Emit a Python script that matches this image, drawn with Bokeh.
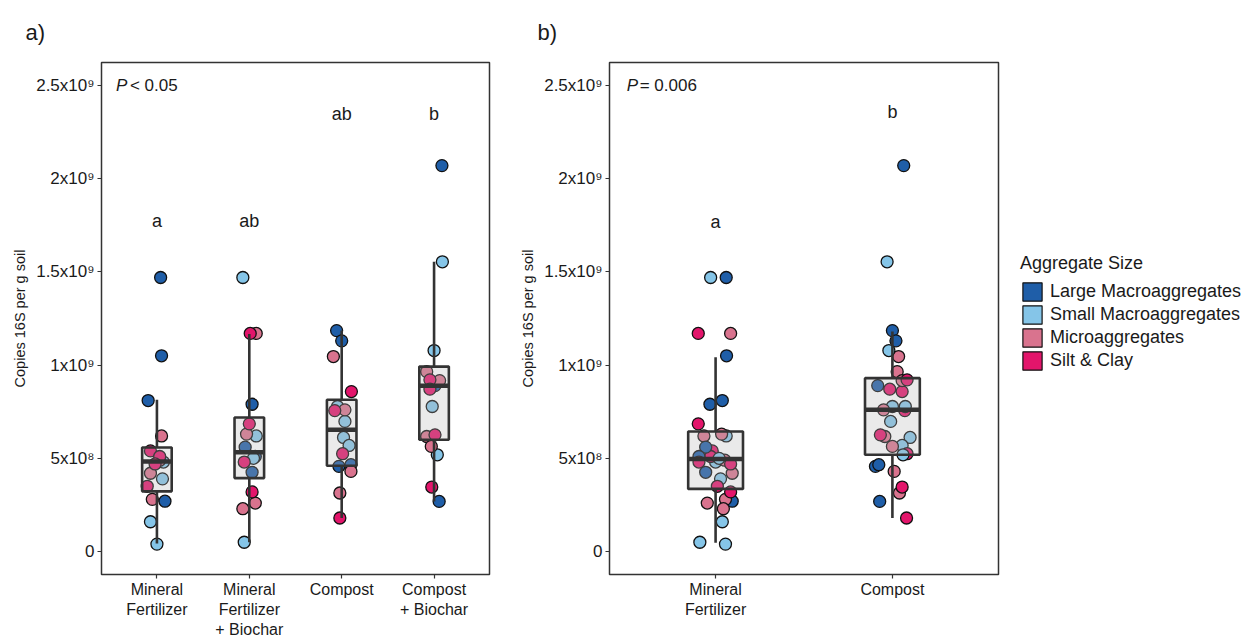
from bokeh.plotting import figure
from bokeh.models import FixedTicker, Legend, LegendItem, Range1d
from bokeh.layouts import row
from bokeh.embed import file_html
from bokeh.resources import INLINE
from bokeh.core.properties import value

# ---------------- data ----------------
treatments_a = ["Mineral\nFertilizer", "Mineral\nFertilizer\n+ Biochar", "Compost", "Compost\n+ Biochar"]
treatments_b = ["Mineral\nFertilizer", "Compost"]
aggregate_sizes = ["Large Macroaggregates", "Small Macroaggregates", "Microaggregates", "Silt & Clay"]
size_colors = ["#1f5ea8", "#85c5e8", "#d9738e", "#e3156b"]

# copies 16S per g soil, in units of 1e9 ; size index: 0 LM, 1 SM, 2 Mi, 3 SC
mf_copies = [1.47, 1.05, 0.81, 0.27, 0.48, 0.39, 0.16, 0.04, 0.62, 0.49, 0.42, 0.28, 0.54, 0.51, 0.47, 0.35]
mf_size = [0, 0, 0, 0, 1, 1, 1, 1, 2, 2, 2, 2, 3, 3, 3, 3]
mfb_copies = [0.79, 0.56, 0.51, 0.425, 1.47, 0.62, 0.50, 0.05, 1.17, 0.63, 0.26, 0.23, 1.17, 0.685, 0.48, 0.32]
mfb_size = [0, 0, 0, 0, 1, 1, 1, 1, 2, 2, 2, 2, 3, 3, 3, 3]
c_copies = [1.185, 1.13, 0.457, 0.466, 0.778, 0.698, 0.612, 0.569, 1.046, 0.76, 0.43, 0.314, 0.858, 0.756, 0.525, 0.18]
c_size = [0, 0, 0, 0, 1, 1, 1, 1, 2, 2, 2, 2, 3, 3, 3, 3]
cb_copies = [2.07, 0.89, 0.269, 1.554, 1.078, 0.778, 0.519, 0.965, 0.917, 0.617, 0.564, 0.921, 0.871, 0.626, 0.346]
cb_size = [0, 0, 0, 1, 1, 1, 1, 2, 2, 2, 2, 3, 3, 3, 3]

# horizontal jitter (category units)
mf_jit_a = [0.04, 0.05, -0.095, 0.087, 0.07, 0.06, -0.07, 0.0, 0.05, 0.03, -0.07, -0.05, -0.07, 0.03, -0.02, -0.105]
mfb_jit_a = [0.03, -0.045, 0.065, 0.03, -0.07, 0.075, 0.045, -0.055, 0.075, -0.03, 0.065, -0.07, 0.01, 0.0, -0.055, 0.03]
c_jit_a = [-0.055, 0.0, -0.03, 0.1, -0.045, 0.035, 0.02, 0.08, -0.09, 0.035, 0.1, -0.02, 0.105, -0.075, 0.01, -0.02]
cb_jit_a = [0.085, 0.01, 0.055, 0.09, 0.0, -0.02, 0.035, -0.08, 0.06, -0.08, -0.03, -0.045, -0.045, 0.01, -0.025]
mf_jit_b = [0.06, 0.062, 0.038, 0.094, 0.0, 0.028, 0.038, 0.056, -0.066, 0.052, 0.094, 0.056, -0.019, -0.028, 0.085, 0.01]
mfb_jit_b = [-0.032, -0.056, -0.094, -0.056, -0.028, 0.06, 0.02, -0.089, 0.085, 0.034, -0.047, 0.044, -0.098, -0.098, -0.094, 0.085]
c_jit_b = [0.0, 0.02, -0.096, -0.077, 0.0, -0.01, 0.1, 0.055, 0.035, -0.05, 0.01, 0.04, 0.055, 0.07, 0.083, 0.08]
cb_jit_b = [0.064, -0.083, -0.072, -0.03, -0.02, 0.073, 0.06, 0.027, 0.055, -0.043, 0.0, 0.083, -0.015, -0.068, 0.055]

# box statistics (units of 1e9)
a_q1 = [0.323, 0.394, 0.46, 0.60]
a_med = [0.483, 0.532, 0.653, 0.889]
a_q3 = [0.558, 0.719, 0.814, 0.992]
a_lo = [0.043, 0.05, 0.18, 0.269]
a_hi = [0.814, 1.167, 1.185, 1.554]
b_q1 = [0.336, 0.519]
b_med = [0.496, 0.76]
b_q3 = [0.644, 0.93]
b_lo = [0.047, 0.18]
b_hi = [1.042, 1.18]

# significance letters and P values
a_letters = ["a", "ab", "ab", "b"]
a_letter_y = [1.775, 1.775, 2.345, 2.345]
b_letters = ["a", "b"]
b_letter_y = [1.77, 2.36]
a_p_value = "< 0.05"
b_p_value = "= 0.006"

y_ticks = [0, 0.5, 1, 1.5, 2, 2.5]
y_tick_labels = ["0", "5x10\u2078", "1x10\u2079", "1.5x10\u2079", "2x10\u2079", "2.5x10\u2079"]

FONT = "Liberation Sans"
DARK = "#333333"
TXT = "#1a1a1a"
H = 644
TOP, BOTTOM = 62, 70


def make_panel(tag, cats, groups, box, letters, letter_y, p_text, p_x, p_dx,
               width, left_border, right_border, box_w, title_offset):
    n = len(cats)
    p = figure(width=width, height=H, x_range=Range1d(0.4, n + 0.6), y_range=Range1d(-0.123, 2.623),
               output_backend="svg", toolbar_location=None, min_border_left=left_border,
               min_border_right=right_border, min_border_top=TOP, min_border_bottom=BOTTOM, title=tag)
    p.grid.visible = False
    p.outline_line_color = DARK
    p.outline_line_width = 1.5
    p.title.text_font = FONT
    p.title.text_font_size = "22px"
    p.title.text_font_style = "normal"
    p.title.text_color = TXT
    p.title.align = "left"
    p.title.offset = title_offset
    p.title.standoff = 35

    for ax in (p.xaxis[0], p.yaxis[0]):
        ax.axis_line_color = None
        ax.major_tick_line_color = DARK
        ax.major_tick_line_width = 1.2
        ax.major_tick_in = 0
        ax.major_tick_out = 4
        ax.minor_tick_line_color = None
        ax.major_label_text_font = FONT
        ax.major_label_text_color = TXT
    p.xaxis.major_label_text_font_size = "16px"
    p.yaxis.major_label_text_font_size = "17px"
    p.xaxis.ticker = FixedTicker(ticks=list(range(1, n + 1)))
    p.xaxis.major_label_overrides = {i + 1: c for i, c in enumerate(cats)}
    p.xaxis.major_label_standoff = 2
    p.yaxis.ticker = FixedTicker(ticks=y_ticks)
    p.yaxis.major_label_overrides = dict(zip(y_ticks, y_tick_labels))
    p.yaxis.major_label_standoff = 3
    p.yaxis.axis_label = "Copies 16S per g soil"
    p.yaxis.axis_label_text_font = FONT
    p.yaxis.axis_label_text_font_size = "14.5px"
    p.yaxis.axis_label_text_font_style = "normal"
    p.yaxis.axis_label_text_color = TXT
    p.yaxis.axis_label_standoff = 5

    xs, ys, cs = [], [], []
    for gi, (vals, sizes, jit) in enumerate(groups):
        for v, s, j in zip(vals, sizes, jit):
            xs.append(gi + 1 + j)
            ys.append(v)
            cs.append(size_colors[s])
    p.scatter(x=xs, y=ys, fill_color=cs, line_color="#111111", line_width=1.3, size=12)

    q1, med, q3, lo, hi = box
    pos = list(range(1, n + 1))
    p.segment(x0=pos, x1=pos, y0=lo, y1=q1, line_color=DARK, line_width=2.6)
    p.segment(x0=pos, x1=pos, y0=q3, y1=hi, line_color=DARK, line_width=2.6)
    p.quad(left=[x - box_w / 2 for x in pos], right=[x + box_w / 2 for x in pos], bottom=q1, top=q3,
           fill_color="#b3b3b3", fill_alpha=0.28, line_color=DARK, line_width=2.6)
    p.segment(x0=[x - box_w / 2 for x in pos], x1=[x + box_w / 2 for x in pos], y0=med, y1=med,
              line_color=DARK, line_width=4.5)

    p.text(x=pos, y=letter_y, text=letters, text_align="center", text_baseline="alphabetic",
           text_font=value(FONT), text_font_size="18px", text_color=TXT)
    p.text(x=[p_x], y=[2.50], text=["P"], text_align="left", text_baseline="alphabetic",
           text_font=value(FONT), text_font_size="17px", text_font_style="italic", text_color=TXT)
    p.text(x=[p_x], y=[2.50], text=[p_text], x_offset=p_dx, text_align="left", text_baseline="alphabetic",
           text_font=value(FONT), text_font_size="17px", text_color=TXT)
    return p


pa = make_panel("a)", treatments_a,
                [(mf_copies, mf_size, mf_jit_a), (mfb_copies, mfb_size, mfb_jit_a),
                 (c_copies, c_size, c_jit_a), (cb_copies, cb_size, cb_jit_a)],
                (a_q1, a_med, a_q3, a_lo, a_hi), a_letters, a_letter_y, a_p_value, 0.556, 14,
                516, 101, 27, 0.32, -76)

pb = make_panel("b)", treatments_b,
                [(mf_copies + mfb_copies, mf_size + mfb_size, mf_jit_b + mfb_jit_b),
                 (c_copies + cb_copies, c_size + cb_size, c_jit_b + cb_jit_b)],
                (b_q1, b_med, b_q3, b_lo, b_hi), b_letters, b_letter_y, b_p_value, 0.497, 13,
                494, 93, 12, 0.31, -72)

# legend-only figure
pl = figure(width=236, height=H, x_range=Range1d(0, 1), y_range=Range1d(0, 1),
            output_backend="svg", toolbar_location=None, x_axis_location=None, y_axis_location=None,
            min_border=0, outline_line_color=None)
pl.grid.visible = False
all_copies = mf_copies + mfb_copies + c_copies + cb_copies
all_sizes = mf_size + mfb_size + c_size + cb_size
items = []
for k, (name, col) in enumerate(zip(aggregate_sizes, size_colors)):
    vals = [v for v, s in zip(all_copies, all_sizes) if s == k]
    r = pl.quad(left=vals, right=vals, top=vals, bottom=vals, fill_color=col,
                line_color="#111111", line_width=1.2, visible=False)
    items.append(LegendItem(label=name, renderers=[r]))
legend = Legend(items=items, title="Aggregate Size", location=(10, 202), margin=0, padding=0,
                spacing=0, glyph_width=24, glyph_height=23, label_height=23, label_standoff=6,
                border_line_color=None, background_fill_alpha=0,
                label_text_font=FONT, label_text_font_size="18px", label_text_color=TXT,
                title_text_font=FONT, title_text_font_size="18px", title_text_font_style="normal",
                title_text_color=TXT, title_standoff=6)
pl.add_layout(legend)

layout = row(pa, pb, pl)
open("out.html", "w").write(file_html(layout, INLINE))
